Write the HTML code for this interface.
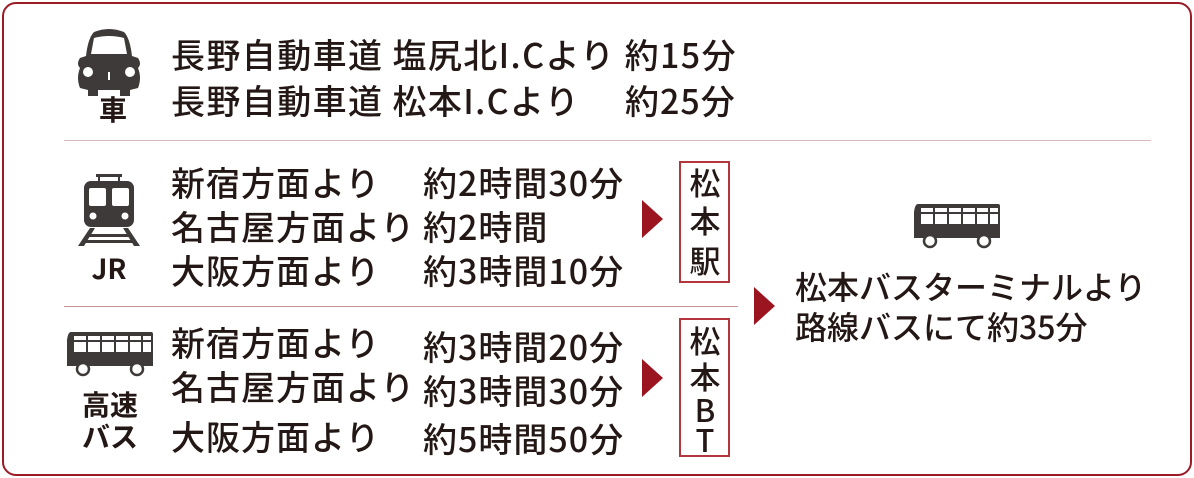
<!DOCTYPE html>
<html><head><meta charset="utf-8"><style>
body{margin:0;width:1194px;height:478px;background:#fff;position:relative;overflow:hidden;font-family:"Noto Sans CJK JP","Liberation Sans",sans-serif;color:#231815;font-weight:500}
.t{position:absolute;font-size:34px;line-height:40px;white-space:nowrap;letter-spacing:1px}
.b{position:absolute;border:2px solid #b5353d;box-sizing:border-box;background:#fff}
.v{position:absolute;font-size:31px;line-height:40px;text-align:center;width:50px}
.lab{position:absolute;font-size:28px;font-weight:700;line-height:30px;text-align:center;width:80px}
</style></head><body>
<div style="position:absolute;left:2px;top:2px;width:1190px;height:474px;border:2px solid #9b1c27;border-radius:14px;box-sizing:border-box"></div>
<div style="position:absolute;left:64px;top:140px;width:1087px;height:1px;background:#dbb8bb"></div>
<div style="position:absolute;left:64px;top:306px;width:674px;height:1px;background:#c99498"></div>

<svg style="position:absolute;left:74px;top:28px" width="70" height="70" viewBox="0 0 70 70">
<path d="M20 4 Q35 -2 50 4 Q56 10 58 28 L64 30 Q68 36 64 40 Q68 50 64 60 L56 62 L56 68 L46 68 L46 62 L24 62 L24 68 L14 68 L14 62 L6 60 Q2 50 6 40 Q2 36 6 30 L12 28 Q14 10 20 4Z" fill="#3e3a39"/>
<path d="M20 10 Q35 6 50 10 L53 26 L17 26Z" fill="#fff"/>
<circle cx="14" cy="44" r="5" fill="#fff"/><circle cx="56" cy="44" r="5" fill="#fff"/>
<rect x="34" y="44" width="2" height="8" fill="#fff"/>
</svg>
<div class="lab" style="left:73px;top:94px">車</div>

<svg style="position:absolute;left:76px;top:172px" width="66" height="76" viewBox="0 0 66 76">
<rect x="20" y="2" width="26" height="3" fill="#3e3a39"/><rect x="22" y="4" width="2" height="6" fill="#3e3a39"/><rect x="42" y="4" width="2" height="6" fill="#3e3a39"/>
<rect x="8" y="9" width="50" height="46" rx="7" fill="#3e3a39"/>
<rect x="13" y="16" width="17" height="18" rx="2" fill="#fff"/><rect x="36" y="16" width="17" height="18" rx="2" fill="#fff"/>
<circle cx="17" cy="44" r="3.5" fill="#fff"/><circle cx="49" cy="44" r="3.5" fill="#fff"/>
<path d="M14 56 L19 56 L8 74 L2 74Z M47 56 L52 56 L64 74 L58 74Z" fill="#3e3a39"/>
<rect x="12" y="62" width="42" height="3" fill="#3e3a39"/><rect x="7" y="68" width="52" height="3" fill="#3e3a39"/>
</svg>
<div class="lab" style="left:69px;top:253px">JR</div>

<svg style="position:absolute;left:65px;top:330px" width="90" height="48" viewBox="0 0 90 48">
<path d="M6 2 H86 Q88 2 88 4 V36 H2 V10 Q3 2 6 2Z" fill="#3e3a39"/>
<g fill="#fff"><rect x="9" y="6" width="12" height="4"/><rect x="23" y="6" width="12" height="4"/><rect x="37" y="6" width="12" height="4"/><rect x="51" y="6" width="12" height="4"/><rect x="65" y="6" width="11" height="4"/><rect x="78" y="6" width="8" height="4"/>
<rect x="9" y="12" width="12" height="10"/><rect x="23" y="12" width="12" height="10"/><rect x="37" y="12" width="12" height="10"/><rect x="51" y="12" width="12" height="10"/><rect x="65" y="12" width="11" height="10"/><rect x="78" y="12" width="8" height="10"/></g>
<circle cx="18" cy="39" r="6" fill="#fff" stroke="#3e3a39" stroke-width="2.5"/><circle cx="72" cy="39" r="6" fill="#fff" stroke="#3e3a39" stroke-width="2.5"/>
</svg>
<div class="lab" style="left:70px;top:388px;line-height:32px">高速<br>バス</div>

<div class="t" style="left:171px;top:34px;letter-spacing:1.4px">長野自動車道 塩尻北I.Cより 約15分</div>
<div class="t" style="left:171px;top:80px;letter-spacing:1.4px">長野自動車道 松本I.Cより</div>
<div class="t" style="left:625px;top:80px">約25分</div>

<div class="t" style="left:171px;top:162px">新宿方面より</div>
<div class="t" style="left:171px;top:206px">名古屋方面より</div>
<div class="t" style="left:171px;top:250px">大阪方面より</div>
<div class="t" style="left:423px;top:162px">約2時間30分</div>
<div class="t" style="left:423px;top:206px">約2時間</div>
<div class="t" style="left:423px;top:250px">約3時間10分</div>

<div class="t" style="left:171px;top:322px">新宿方面より</div>
<div class="t" style="left:171px;top:366px">名古屋方面より</div>
<div class="t" style="left:171px;top:416px">大阪方面より</div>
<div class="t" style="left:423px;top:326px">約3時間20分</div>
<div class="t" style="left:423px;top:370px">約3時間30分</div>
<div class="t" style="left:423px;top:418px">約5時間50分</div>

<svg style="position:absolute;left:642px;top:200px" width="24" height="40"><path d="M0 0 L21 19 L0 38Z" fill="#9b1520"/></svg>
<svg style="position:absolute;left:642px;top:359px" width="24" height="40"><path d="M0 0 L21 19 L0 38Z" fill="#9b1520"/></svg>
<svg style="position:absolute;left:754px;top:287px" width="24" height="40"><path d="M0 0 L21 19 L0 38Z" fill="#9b1520"/></svg>

<div class="b" style="left:679px;top:161px;width:51px;height:122px"></div>
<div class="v" style="left:680px;top:162px">松</div>
<div class="v" style="left:680px;top:200px">本</div>
<div class="v" style="left:680px;top:240px">駅</div>
<div class="b" style="left:679px;top:318px;width:51px;height:139px"></div>
<div class="v" style="left:680px;top:320px">松</div>
<div class="v" style="left:680px;top:356px">本</div>
<div class="v" style="left:680px;top:389px">B</div>
<div class="v" style="left:680px;top:419px">T</div>

<svg style="position:absolute;left:912px;top:202px" width="90" height="48" viewBox="0 0 90 48">
<path d="M6 2 H86 Q88 2 88 4 V36 H2 V10 Q3 2 6 2Z" fill="#3e3a39"/>
<g fill="#fff"><rect x="9" y="6" width="12" height="4"/><rect x="23" y="6" width="12" height="4"/><rect x="37" y="6" width="12" height="4"/><rect x="51" y="6" width="12" height="4"/><rect x="65" y="6" width="11" height="4"/><rect x="78" y="6" width="8" height="4"/>
<rect x="9" y="12" width="12" height="10"/><rect x="23" y="12" width="12" height="10"/><rect x="37" y="12" width="12" height="10"/><rect x="51" y="12" width="12" height="10"/><rect x="65" y="12" width="11" height="10"/><rect x="78" y="12" width="8" height="10"/></g>
<circle cx="18" cy="39" r="6" fill="#fff" stroke="#3e3a39" stroke-width="2.5"/><circle cx="72" cy="39" r="6" fill="#fff" stroke="#3e3a39" stroke-width="2.5"/>
</svg>
<div class="t" style="left:795px;top:266px;letter-spacing:0;font-size:32px">松本バスターミナルより</div>
<div class="t" style="left:795px;top:306px;letter-spacing:0;font-size:32px">路線バスにて約35分</div>
</body></html>
